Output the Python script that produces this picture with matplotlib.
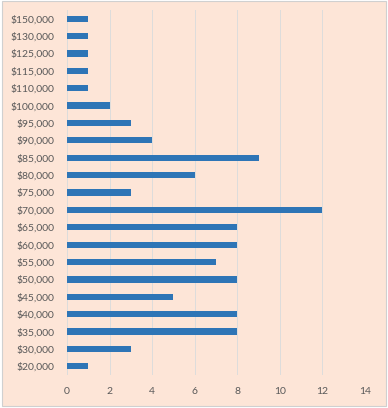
import matplotlib.pyplot as plt
from matplotlib.patches import Rectangle

salarios = ["$20,000", "$30,000", "$35,000", "$40,000", "$45,000", "$50,000",
            "$55,000", "$60,000", "$65,000", "$70,000", "$75,000", "$80,000",
            "$85,000", "$90,000", "$95,000", "$100,000", "$110,000", "$115,000",
            "$125,000", "$130,000", "$150,000"]
contagem = [1, 3, 8, 8, 5, 8, 7, 8, 8, 12, 3, 6, 9, 4, 3, 2, 1, 1, 1, 1, 1]
x_ticks = [0, 2, 4, 6, 8, 10, 12, 14]

fundo = "#FDE5D7"
cinza = "#595959"

plt.rcParams['font.family'] = ['Lato', 'DejaVu Sans']

fig = plt.figure(figsize=(3.88, 4.08), dpi=100, facecolor="white")
fig.patches.append(Rectangle((0.004, 0.006), 0.99, 0.992, transform=fig.transFigure,
                             facecolor=fundo, edgecolor="#D0D0D0", lw=0.8, zorder=-1))
ax = fig.add_axes([67 / 388, 33 / 408, 298 / 388, 365 / 408])
ax.set_facecolor(fundo)

ax.barh(range(len(salarios)), contagem, height=0.36, color="#2E75B6", zorder=3)
ax.set_yticks(range(len(salarios)))
ax.set_yticklabels(salarios)
ax.set_ylim(-0.5, len(salarios) - 0.5)
ax.set_xlim(0, 14)
ax.set_xticks(x_ticks)
ax.grid(axis='x', color="#DCDCDC", lw=0.7, zorder=0)
for s in ax.spines.values():
    s.set_visible(False)
ax.axvline(0, color="#DCDCDC", lw=0.7, zorder=1)
ax.tick_params(length=0, labelsize=7.5, colors=cinza)
ax.tick_params(axis='x', pad=9)
ax.tick_params(axis='y', pad=9)

fig.savefig("out.png", dpi=100, facecolor=fig.get_facecolor())
